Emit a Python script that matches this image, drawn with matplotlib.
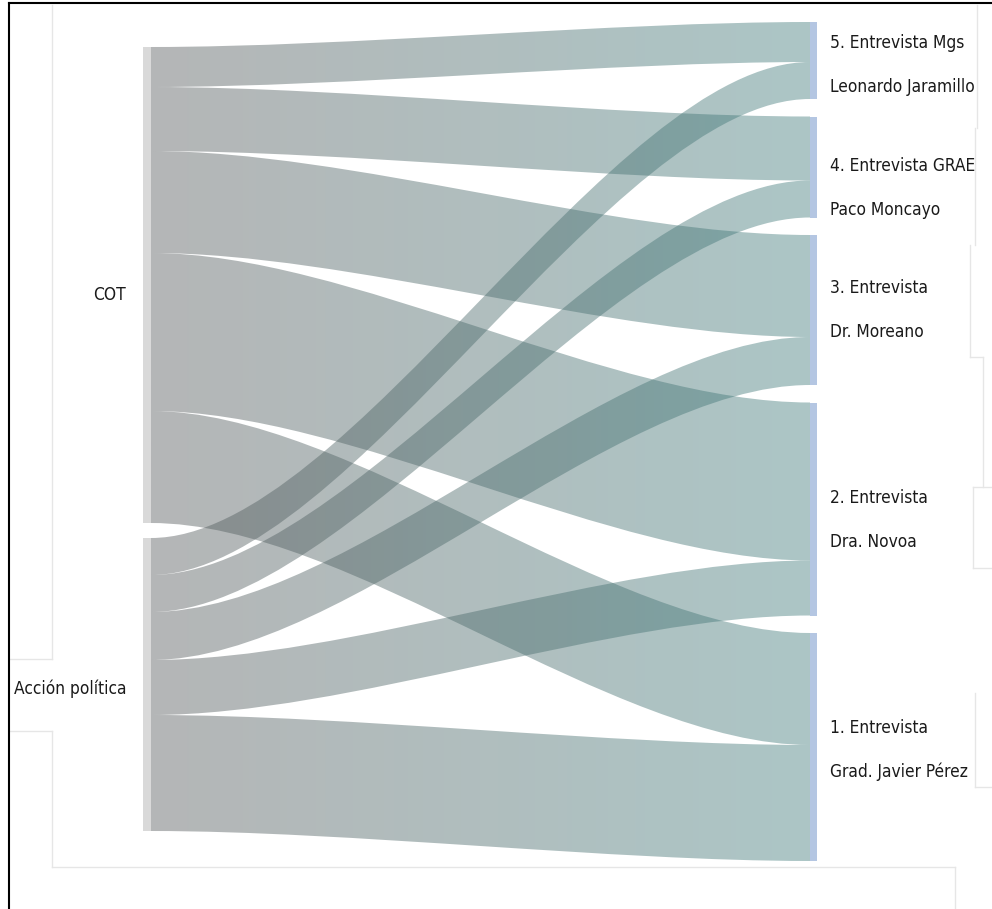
import numpy as np
import matplotlib.pyplot as plt
from matplotlib import font_manager as fm
from matplotlib.path import Path
from matplotlib.patches import PathPatch, Rectangle
from matplotlib.colors import to_rgb

# Datos del diagrama (origen -> entrevista)
sources = ['COT', 'Acción política']
targets = ['5. Entrevista Mgs\nLeonardo Jaramillo',
           '4. Entrevista GRAE\nPaco Moncayo',
           '3. Entrevista\nDr. Moreano',
           '2. Entrevista\nDra. Novoa',
           '1. Entrevista\nGrad. Javier Pérez']
cot_values = [40, 64, 102, 158, 112]
accion_values = [37, 37, 48, 55, 116]

flows = [cot_values, accion_values]

# Layout (pixeles)
W, H = 992, 909
x_left, x_right = 151, 810
bar_w = 8
left_top, left_gap = 47, 15
right_top, right_gap = 22, 17.5
src_label_dy = [10, 4]
label_dy = [5, 21, 0, 11, 3]

col_left = np.array(to_rgb('#55595b'))
col_right = np.array(to_rgb('#427d7d'))
alpha = 0.44

# fuente estrecha si existe alguna
cond = [f for f in fm.fontManager.ttflist
        if str(f.stretch) in ('condensed', 'semi-condensed', 'extra-condensed')
        and f.style == 'normal' and f.weight in (400, 'normal', 'regular')]
cond.sort(key=lambda f: (0 if 'Sans' in f.name else 1, f.name))
names = {f.name for f in fm.fontManager.ttflist}
if 'Liberation Sans Narrow' in names:
    fprop = fm.FontProperties(family='Liberation Sans Narrow')
elif cond:
    fprop = fm.FontProperties(fname=cond[0].fname)
elif 'Roboto' in names:
    fprop = fm.FontProperties(family='Roboto')
else:
    fprop = fm.FontProperties(family='DejaVu Sans')

fig = plt.figure(figsize=(W / 100, H / 100), dpi=100)
ax = fig.add_axes([0, 0, 1, 1])

# ajustar tamaño para que "Leonardo Jaramillo" mida ~145 px
r = fig.canvas.get_renderer()
probe = fig.text(0, 0, 'Leonardo Jaramillo', fontproperties=fprop, fontsize=10)
ancho = probe.get_window_extent(r).width
probe.remove()
fs = min(10 * 145 / ancho, 16)
fprop.set_size(fs)

# posiciones de nodos
src_tot = [sum(v) for v in flows]
tgt_tot = [sum(f[j] for f in flows) for j in range(len(targets))]

src_y = []
y = left_top
for t in src_tot:
    src_y.append(y)
    y += t + left_gap
tgt_y = []
y = right_top
for t in tgt_tot:
    tgt_y.append(y)
    y += t + right_gap


def Banda(x0, x1, a0, b0, a1, b1, k=0.3):
    dx = x1 - x0
    c0 = x0 + k * dx
    c1 = x1 - k * dx
    verts = [(x0, a0), (c0, a0), (c1, a1), (x1, a1),
             (x1, b1), (c1, b1), (c0, b0), (x0, b0), (x0, a0)]
    codes = [Path.MOVETO, Path.CURVE4, Path.CURVE4, Path.CURVE4,
             Path.LINETO, Path.CURVE4, Path.CURVE4, Path.CURVE4, Path.CLOSEPOLY]
    return Path(verts, codes)


# gradiente gris -> verde azulado
n = 256
grad = np.zeros((1, n, 4))
f = np.linspace(0, 1, n)[:, None]
grad[0, :, :3] = col_left * (1 - f) + col_right * f
grad[0, :, 3] = alpha

tgt_off = [0.0] * len(targets)
for i, vals in enumerate(flows):
    off = 0.0
    for j, v in enumerate(vals):
        a0 = src_y[i] + off
        b0 = a0 + v
        a1 = tgt_y[j] + tgt_off[j]
        b1 = a1 + v
        off += v
        tgt_off[j] += v
        p = PathPatch(Banda(x_left, x_right, a0, b0, a1, b1),
                      facecolor='none', edgecolor='none')
        ax.add_patch(p)
        im = ax.imshow(grad, extent=[x_left, x_right, H, 0], aspect='auto',
                       interpolation='bilinear', zorder=2)
        im.set_clip_path(p)

ax.set_xlim(0, W)
ax.set_ylim(H, 0)
ax.axis('off')

# barras de nodos y etiquetas
for i, t in enumerate(src_tot):
    ax.add_patch(Rectangle((x_left - bar_w, src_y[i]), bar_w, t,
                           facecolor='#d9d9d9', edgecolor='none', zorder=3))
    ax.text(126, src_y[i] + t / 2 + src_label_dy[i], sources[i], ha='right',
            va='center', fontproperties=fprop, color='#1a1a1a')
for j, t in enumerate(tgt_tot):
    ax.add_patch(Rectangle((x_right, tgt_y[j]), 7, t,
                           facecolor='#b4c6e2', edgecolor='none', zorder=3))
    yc = tgt_y[j] + t / 2 + label_dy[j]
    for k, linea in enumerate(targets[j].split('\n')):
        ax.text(830, yc + (k - 0.5) * 44, linea, ha='left', va='center',
                fontproperties=fprop, color='#1a1a1a')

# lineas tenues de la captura
tenue = dict(color='#e6e6e6', lw=1, zorder=1)
ax.plot([52, 52], [5, 659], **tenue)
ax.plot([10, 52], [659, 659], **tenue)
ax.plot([10, 52], [731, 731], **tenue)
ax.plot([52, 52], [731, 867], **tenue)
ax.plot([52, 955], [867, 867], **tenue)
ax.plot([955, 955], [867, 909], **tenue)
ax.plot([977, 977], [5, 128], **tenue)
ax.plot([975, 975], [128, 245], **tenue)
ax.plot([970, 970], [245, 357], **tenue)
ax.plot([970, 983], [357, 357], **tenue)
ax.plot([983, 983], [357, 487], **tenue)
ax.plot([973, 992], [487, 487], **tenue)
ax.plot([973, 973], [487, 568], **tenue)
ax.plot([973, 992], [568, 568], **tenue)
ax.plot([975, 975], [693, 787], **tenue)
ax.plot([975, 992], [787, 787], **tenue)

# marco negro
ax.plot([9, W], [3, 3], color='black', lw=1.5, zorder=5)
ax.plot([9, 9], [3, H], color='black', lw=1.5, zorder=5)

fig.savefig('out.png', dpi=100)
